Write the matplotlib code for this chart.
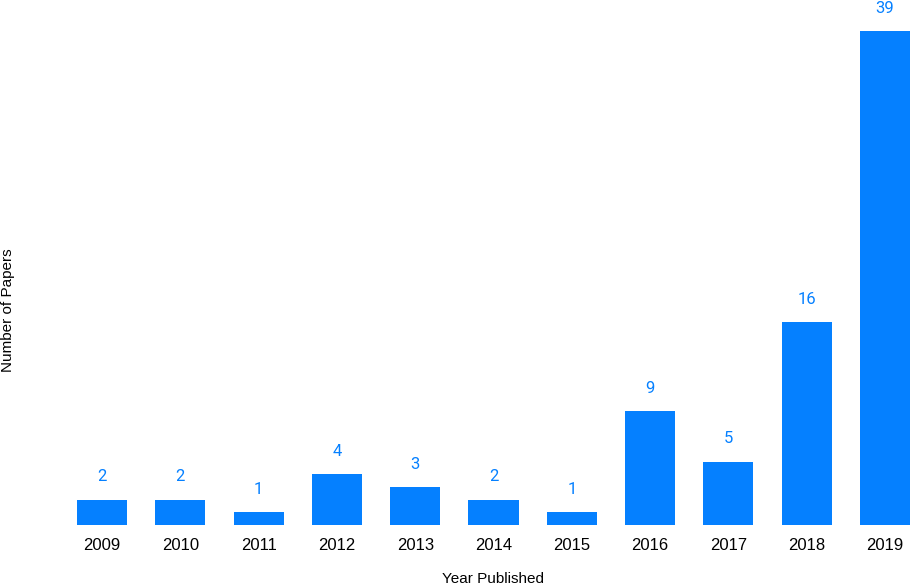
import matplotlib
matplotlib.use("Agg")
from matplotlib import pyplot as plt

years = ["2009", "2010", "2011", "2012", "2013", "2014", "2015", "2016", "2017", "2018", "2019"]
papers = [2, 2, 1, 4, 3, 2, 1, 9, 5, 16, 39]

bar_color = "#0580FF"

fig = plt.figure(figsize=(9.13, 5.87), dpi=100)
ax = fig.add_axes([77 / 913, 62 / 587, 833 / 913, 494 / 587])

x = list(range(len(years)))
ax.bar(x, papers, width=0.64, color=bar_color)

for xi, v in zip(x, papers):
    ax.annotate(str(v), (xi, v), xytext=(0, 11), textcoords="offset points",
                ha="center", va="bottom", color=bar_color, fontsize=12,
                family="Roboto")

ax.set_xlim(-0.32, len(years) - 1 + 0.32)
ax.set_ylim(0, 39)
ax.set_xticks(x)
ax.set_xticklabels(years, fontsize=12, family="Liberation Sans")
ax.tick_params(axis="x", length=0, pad=9)
ax.set_yticks([])
for s in ax.spines.values():
    s.set_visible(False)

fig.text(493 / 913, 1 - 579 / 587, "Year Published", ha="center", va="center",
         fontsize=11, family="Liberation Sans")
fig.text(8 / 913, 1 - 310 / 587, "Number of Papers", ha="center", va="center",
         rotation=90, fontsize=11, family="Liberation Sans")

fig.savefig("out.png", dpi=100)
